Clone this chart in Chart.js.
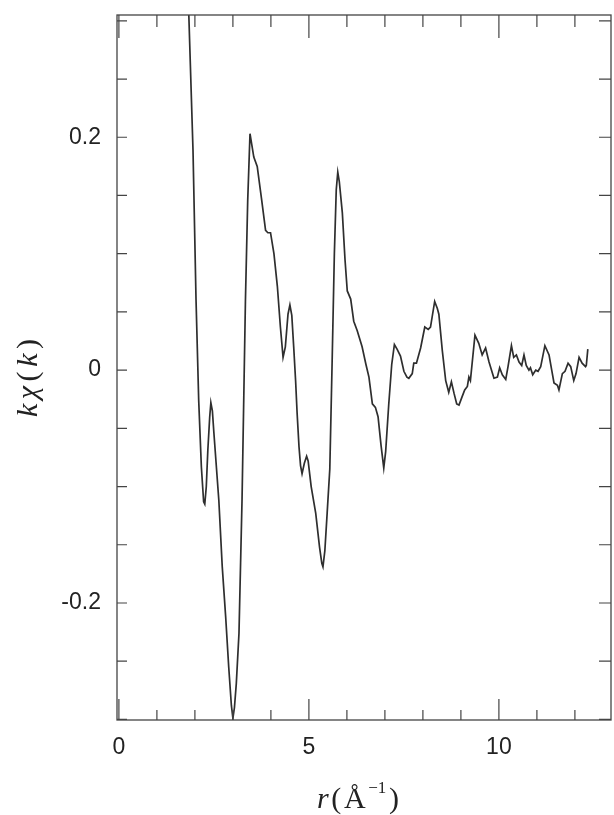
<!DOCTYPE html>
<html>
<head>
<meta charset="utf-8">
<script src="https://cdn.jsdelivr.net/npm/chart.js@4/dist/chart.umd.min.js"></script>
<style>
html,body{margin:0;padding:0;background:#fff;}
canvas{display:block;}
</style>
</head>
<body>
<canvas id="c" width="614" height="815"></canvas>
<script>
// r values (x) and k·chi(k) values (y)
const rValues = [1.80,1.84,1.95,2.03,2.10,2.17,2.23,2.26,2.30,2.34,2.39,2.42,2.46,2.50,2.63,2.72,2.81,2.89,2.96,3.00,3.04,3.09,3.16,3.24,3.33,3.39,3.45,3.50,3.55,3.64,3.75,3.86,3.92,3.99,4.08,4.17,4.25,4.32,4.38,4.45,4.50,4.55,4.60,4.65,4.69,4.74,4.78,4.82,4.88,4.94,4.98,5.06,5.18,5.28,5.34,5.37,5.42,5.48,5.55,5.61,5.67,5.72,5.76,5.80,5.88,5.95,6.01,6.10,6.18,6.27,6.40,6.50,6.58,6.67,6.75,6.82,6.90,6.97,7.02,7.10,7.18,7.25,7.32,7.41,7.50,7.58,7.63,7.72,7.76,7.83,7.94,8.05,8.14,8.20,8.31,8.38,8.42,8.51,8.60,8.68,8.75,8.82,8.89,8.95,9.03,9.10,9.17,9.21,9.25,9.37,9.47,9.56,9.65,9.74,9.87,9.96,10.02,10.09,10.18,10.24,10.33,10.39,10.46,10.53,10.60,10.66,10.72,10.79,10.83,10.89,10.97,11.03,11.10,11.21,11.32,11.39,11.45,11.54,11.58,11.67,11.74,11.82,11.89,11.97,12.03,12.11,12.19,12.28,12.30,12.34];
const kchiValues = [0.36,0.305,0.189,0.060,-0.026,-0.083,-0.113,-0.115,-0.100,-0.069,-0.040,-0.028,-0.035,-0.054,-0.112,-0.169,-0.212,-0.255,-0.288,-0.299,-0.290,-0.269,-0.226,-0.112,0.060,0.146,0.203,0.193,0.183,0.175,0.148,0.120,0.118,0.118,0.100,0.072,0.037,0.011,0.020,0.048,0.056,0.047,0.020,-0.009,-0.037,-0.066,-0.082,-0.089,-0.080,-0.074,-0.078,-0.100,-0.123,-0.152,-0.166,-0.169,-0.155,-0.123,-0.085,0.005,0.100,0.155,0.170,0.162,0.135,0.095,0.068,0.061,0.042,0.034,0.020,0.005,-0.006,-0.029,-0.032,-0.040,-0.065,-0.084,-0.070,-0.030,0.005,0.022,0.018,0.012,-0.001,-0.006,-0.007,-0.003,0.006,0.006,0.019,0.037,0.035,0.037,0.059,0.053,0.048,0.017,-0.009,-0.019,-0.010,-0.020,-0.029,-0.030,-0.023,-0.017,-0.014,-0.006,-0.009,0.030,0.023,0.013,0.019,0.007,-0.007,-0.006,0.002,-0.004,-0.008,0.003,0.021,0.011,0.013,0.007,0.004,0.013,0.004,0.000,0.002,-0.004,0.000,-0.001,0.003,0.021,0.013,0.000,-0.011,-0.013,-0.017,-0.003,-0.001,0.006,0.003,-0.009,-0.003,0.011,0.006,0.003,0.004,0.018];

const xTickLabels = [0, 5, 10];
const yTickLabels = [-0.2, 0, 0.2];
const xMinorTicks = [0,1,2,3,4,5,6,7,8,9,10,11,12];
const yMinorTicks = [-0.30,-0.25,-0.20,-0.15,-0.10,-0.05,0,0.05,0.10,0.15,0.20,0.25,0.30];

const points = rValues.map((r, i) => ({x: r, y: kchiValues[i]}));
const INK = '#2e2e2e';

function drawSpread(ctx, parts, center, target) {
  let w = 0;
  parts.forEach(p => { ctx.font = p.f; p.w = ctx.measureText(p.t).width; w += p.w; });
  const gap = Math.max(0, (target - w) / (parts.length - 1));
  let c = center - (w + gap * (parts.length - 1)) / 2;
  parts.forEach(p => { ctx.font = p.f; ctx.fillText(p.t, c, p.dy || 0); c += p.w + gap; });
}

const framePlugin = {
  id: 'frame',
  afterDatasetsDraw(chart) {
    const {ctx, chartArea: a, scales: {x, y}} = chart;
    ctx.save();
    ctx.strokeStyle = '#444';
    ctx.lineWidth = 1.3;
    ctx.strokeRect(a.left, a.top, a.right - a.left, a.bottom - a.top);
    ctx.lineWidth = 1.2;
    ctx.beginPath();
    xMinorTicks.forEach(v => {
      const px = x.getPixelForValue(v);
      const major = xTickLabels.includes(v);
      const lb = major ? 21 : 10;
      const lt = major ? 23 : 12;
      ctx.moveTo(px, a.bottom); ctx.lineTo(px, a.bottom - lb);
      ctx.moveTo(px, a.top); ctx.lineTo(px, a.top + lt);
    });
    yMinorTicks.forEach(v => {
      const py = y.getPixelForValue(v);
      ctx.moveTo(a.left, py); ctx.lineTo(a.left + 10, py);
      ctx.moveTo(a.right, py); ctx.lineTo(a.right - 12, py);
    });
    ctx.stroke();
    ctx.restore();
  },
  afterDraw(chart) {
    const {ctx} = chart;
    const serif = '"Liberation Serif", "DejaVu Serif", serif';
    ctx.save();
    ctx.fillStyle = '#222';
    ctx.textBaseline = 'alphabetic';
    // x title: r(Å^-1)
    ctx.translate(0, 808);
    drawSpread(ctx, [
      {t: 'r', f: 'italic 30px ' + serif},
      {t: '(', f: '30px ' + serif},
      {t: 'Å', f: '30px ' + serif},
      {t: '−1', f: '17px ' + serif, dy: -15},
      {t: ')', f: '30px ' + serif}
    ], 358, 82);
    ctx.restore();
    // y title: kχ(k)
    ctx.save();
    ctx.fillStyle = '#222';
    ctx.textBaseline = 'alphabetic';
    ctx.translate(37, 378);
    ctx.rotate(-Math.PI / 2);
    drawSpread(ctx, [
      {t: 'k', f: 'italic 30px ' + serif},
      {t: 'χ', f: 'italic 30px ' + serif},
      {t: '(', f: '30px ' + serif},
      {t: 'k', f: 'italic 30px ' + serif},
      {t: ')', f: '30px ' + serif}
    ], 0, 78);
    ctx.restore();
  }
};

new Chart(document.getElementById('c'), {
  type: 'scatter',
  data: {
    datasets: [{
      data: points,
      showLine: true,
      borderColor: INK,
      borderWidth: 1.7,
      pointRadius: 0,
      tension: 0,
      fill: false
    }]
  },
  options: {
    responsive: false,
    animation: false,
    events: [],
    layout: {autoPadding: false, padding: {top: 15, right: 3, left: 0, bottom: 0}},
    plugins: {legend: {display: false}, tooltip: {enabled: false}},
    scales: {
      x: {
        type: 'linear',
        min: -0.05,
        max: 12.95,
        grid: {display: false, drawTicks: false},
        border: {display: false},
        afterBuildTicks: s => { s.ticks = xTickLabels.map(v => ({value: v})); },
        afterFit: s => { s.height = 95; s.paddingLeft = 0; s.paddingRight = 0; },
        ticks: {
          padding: 14,
          color: '#222',
          font: {family: '"Liberation Sans", Arial, sans-serif', size: 23},
          callback: v => String(v)
        }
      },
      y: {
        type: 'linear',
        min: -0.3005,
        max: 0.305,
        grid: {display: false, drawTicks: false},
        border: {display: false},
        afterBuildTicks: s => { s.ticks = yTickLabels.map(v => ({value: v})); },
        afterFit: s => { s.width = 117; s.paddingTop = 0; s.paddingBottom = 0; },
        ticks: {
          padding: 16,
          color: '#222',
          font: {family: '"Liberation Sans", Arial, sans-serif', size: 23},
          callback: v => (v === 0 ? '0' : String(v))
        }
      }
    }
  },
  plugins: [framePlugin]
});
</script>
</body>
</html>
